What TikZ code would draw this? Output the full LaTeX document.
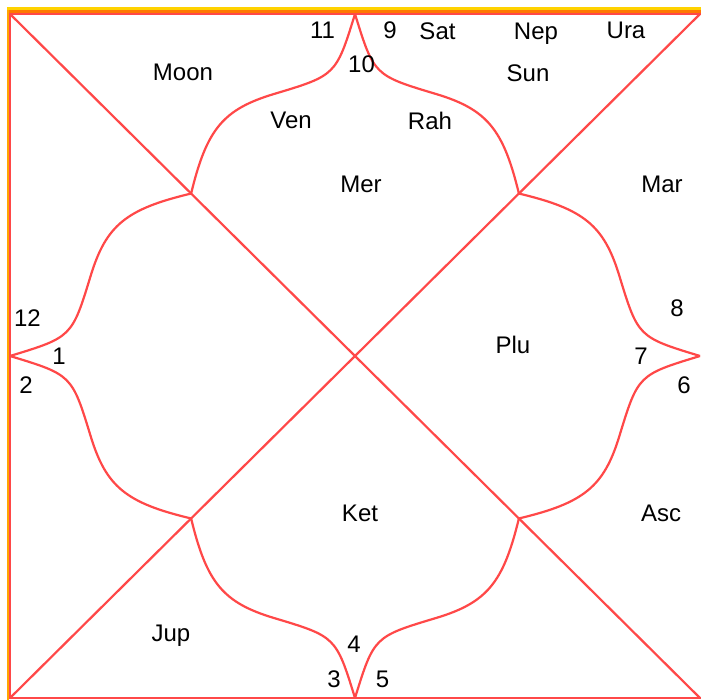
\documentclass[tikz,border=0pt]{standalone}
\usepackage{fontspec}
\setmainfont{Liberation Sans}
\definecolor{chartred}{RGB}{255,72,72}
\definecolor{bandgold}{RGB}{255,210,0}
\definecolor{bandorange}{RGB}{255,120,0}
\definecolor{bandleft}{RGB}{255,165,0}
% petal curve from a side midpoint to an inner corner point; x' = #1 x + #2 y, y' = #3 x + #4 y
\newcommand\petal[4]{%
  \draw[chartline] ({#2},{#4})
    .. controls ({#1*(-0.0551)+#2*0.8205},{#3*(-0.0551)+#4*0.8205})
    and ({#1*(-0.0551)+#2*0.8205},{#3*(-0.0551)+#4*0.8205})
    .. ({#1*(-0.2348)+#2*0.7661},{#3*(-0.2348)+#4*0.7661})
    .. controls ({#1*(-0.3823)+#2*0.7213},{#3*(-0.3823)+#4*0.7213})
    and ({#1*(-0.4299)+#2*0.6635},{#3*(-0.4299)+#4*0.6635})
    .. ({#1*(-0.475)+#2*0.475},{#3*(-0.475)+#4*0.475});}
\begin{document}
\begin{tikzpicture}[x=0.5pt,y=-0.5pt,
  chartline/.style={draw=chartred,line width=1.1pt},
  lbl/.style={anchor=base,inner sep=0pt,font=\fontsize{12}{14}\selectfont}]
\useasboundingbox (0,0) rectangle (701,700);
\fill[white] (0,0) rectangle (701,700);
\fill[bandgold] (7,7) rectangle (701,10);
\fill[bandorange] (7,10) rectangle (701,13);
\fill[bandleft] (7,10) rectangle (9,700);
\draw[chartline] (701,14) -- (10,14) -- (10,698) -- (701,698);
\coordinate (tl) at (10,14);
\coordinate (tr) at (700,14);
\coordinate (bl) at (10,698);
\coordinate (br) at (700,698);
\draw[chartline] (tl) -- (br);
\draw[chartline] (tr) -- (bl);
\begin{scope}[shift={(355,356)},x=172.5pt,y=171pt]
  \petal{1}{0}{0}{1}
  \petal{-1}{0}{0}{1}
  \petal{0}{-1}{-1}{0}
  \petal{0}{-1}{1}{0}
  \petal{0}{1}{-1}{0}
  \petal{0}{1}{1}{0}
  \petal{1}{0}{0}{-1}
  \petal{-1}{0}{0}{-1}
\end{scope}
\node[lbl] (h11) at (322.5,39) {11};
\node[lbl] (h9) at (390,39) {9};
\node[lbl] (sat) at (437.5,40) {Sat};
\node[lbl] (nep) at (536,40) {Nep};
\node[lbl] (ura) at (626,39) {Ura};
\node[lbl] (moon) at (183,81) {Moon};
\node[lbl] (h10) at (361.5,73) {10};
\node[lbl] (sun) at (528,81.5) {Sun};
\node[lbl] (ven) at (291,129) {Ven};
\node[lbl] (rah) at (430,130) {Rah};
\node[lbl] (mer) at (361,193) {Mer};
\node[lbl] (mar) at (662,193) {Mar};
\node[lbl] (h12) at (27.5,326) {12};
\node[lbl] (h8) at (677,316) {8};
\node[lbl] (h1) at (59,364) {1};
\node[lbl] (plu) at (513,353) {Plu};
\node[lbl] (h7) at (641,364) {7};
\node[lbl] (h2) at (26,393) {2};
\node[lbl] (h6) at (684,393) {6};
\node[lbl] (ket) at (360,521) {Ket};
\node[lbl] (asc) at (661,521) {Asc};
\node[lbl] (jup) at (171,641) {Jup};
\node[lbl] (h4) at (354,652) {4};
\node[lbl] (h3) at (334,687) {3};
\node[lbl] (h5) at (382.5,687) {5};
\end{tikzpicture}
\end{document}
